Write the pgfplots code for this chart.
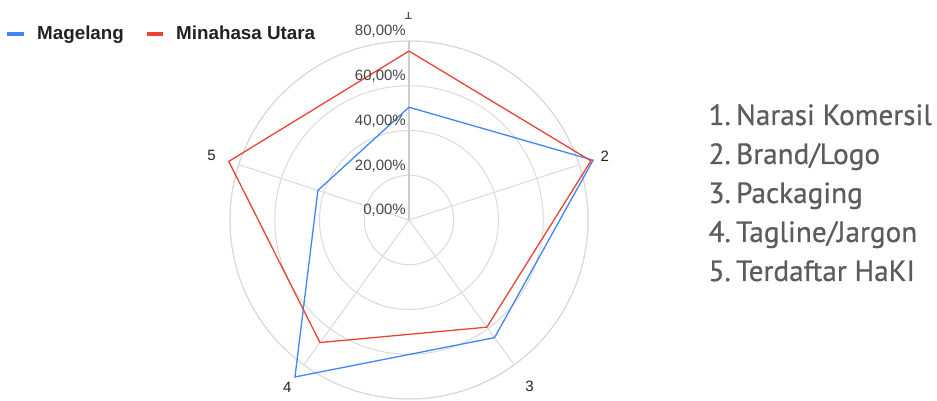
\documentclass[border=0pt]{standalone}
\usepackage{fontspec}
\setmainfont{Liberation Sans}
\newfontfamily\listfont[FakeBold=0.6]{PT Sans}
\usepackage{pgfplots}
\pgfplotsset{compat=1.18}
\usepgfplotslibrary{polar}
\definecolor{cblue}{HTML}{4285F4}
\definecolor{cred}{HTML}{EA4335}
\definecolor{cgrid}{HTML}{DADADA}
\definecolor{caxis}{HTML}{CCCCCC}
\definecolor{ctick}{HTML}{444444}
\definecolor{clab}{HTML}{222222}
\definecolor{clist}{HTML}{5C5C5C}
\begin{document}
\begin{tikzpicture}[x=1pt,y=1pt]
\useasboundingbox (0,0) rectangle (937,401);
\begin{polaraxis}[
  at={(409pt,181pt)}, anchor=center,
  scale only axis, width=358pt, height=358pt,
  xmin=0, xmax=360, ymin=0, ymax=80,
  xtick={18,90,162,234,306}, xticklabel=\empty,
  ytick={20,40,60,80}, yticklabel=\empty,
  xmajorgrids, ymajorgrids,
  grid style={cgrid, line width=1pt},
  axis line style={cgrid, line width=1pt},
  y axis line style={draw=none},
  major tick length=0pt,
  clip=false,
]
\draw[caxis, line width=2.2pt] (axis cs:90,0) -- (axis cs:90,80);
\addplot[cblue, line width=1.3pt] coordinates {(90,50.4) (18,86.5) (306,65) (234,86.7) (162,42.8) (90,50.4)};
\addplot[cred, line width=1.3pt] coordinates {(90,75.5) (18,85.5) (306,59.2) (234,67.7) (162,84.7) (90,75.5)};
\begin{scope}[every node/.style={font=\fontsize{15}{18}\selectfont, text=ctick, anchor=east, xshift=-3pt, yshift=9.5pt, inner sep=0pt}]
\node at (axis cs:90,0) {0,00\%};
\node at (axis cs:90,20) {20,00\%};
\node at (axis cs:90,40) {40,00\%};
\node at (axis cs:90,60) {60,00\%};
\node at (axis cs:90,80) {80,00\%};
\end{scope}
\begin{scope}[every node/.style={font=\fontsize{15}{18}\selectfont, text=clab, inner sep=0pt}]
\node at (axis cs:18,92) {2};
\node at (axis cs:306,91.7) {3};
\node at (axis cs:234,92.5) {4};
\node at (axis cs:162,92.8) {5};
\end{scope}
\end{polaraxis}
\begin{scope}
\clip (0,0) rectangle (937,388.3);
\node[anchor=base west, font=\fontsize{15}{18}\selectfont, text=clab!80, inner sep=0pt] at (404,381.7) {1};
\end{scope}
% legend
\fill[cblue] (7,365) rectangle (24,369);
\node[anchor=base west, inner sep=0pt, font=\bfseries\fontsize{18.8}{22}\selectfont, text=clab] at (37,361.7) {Magelang};
\fill[cred] (147,365) rectangle (163,369);
\node[anchor=base west, inner sep=0pt, font=\bfseries\fontsize{18.8}{22}\selectfont, text=clab] at (176,361.7) {Minahasa Utara};
% category list
\begin{scope}[every node/.style={font=\listfont\fontsize{29.2}{33}\selectfont, text=clist, inner sep=0pt}]
\node[anchor=base east] at (731,276) {1.};
\node[anchor=base west] at (736,276) {Narasi Komersil};
\node[anchor=base east] at (731,237) {2.};
\node[anchor=base west] at (736,237) {Brand/Logo};
\node[anchor=base east] at (731,198) {3.};
\node[anchor=base west] at (736,198) {Packaging};
\node[anchor=base east] at (731,159) {4.};
\node[anchor=base west] at (736,159) {Tagline/Jargon};
\node[anchor=base east] at (731,120) {5.};
\node[anchor=base west] at (736,120) {Terdaftar HaKI};
\end{scope}
\end{tikzpicture}
\end{document}
